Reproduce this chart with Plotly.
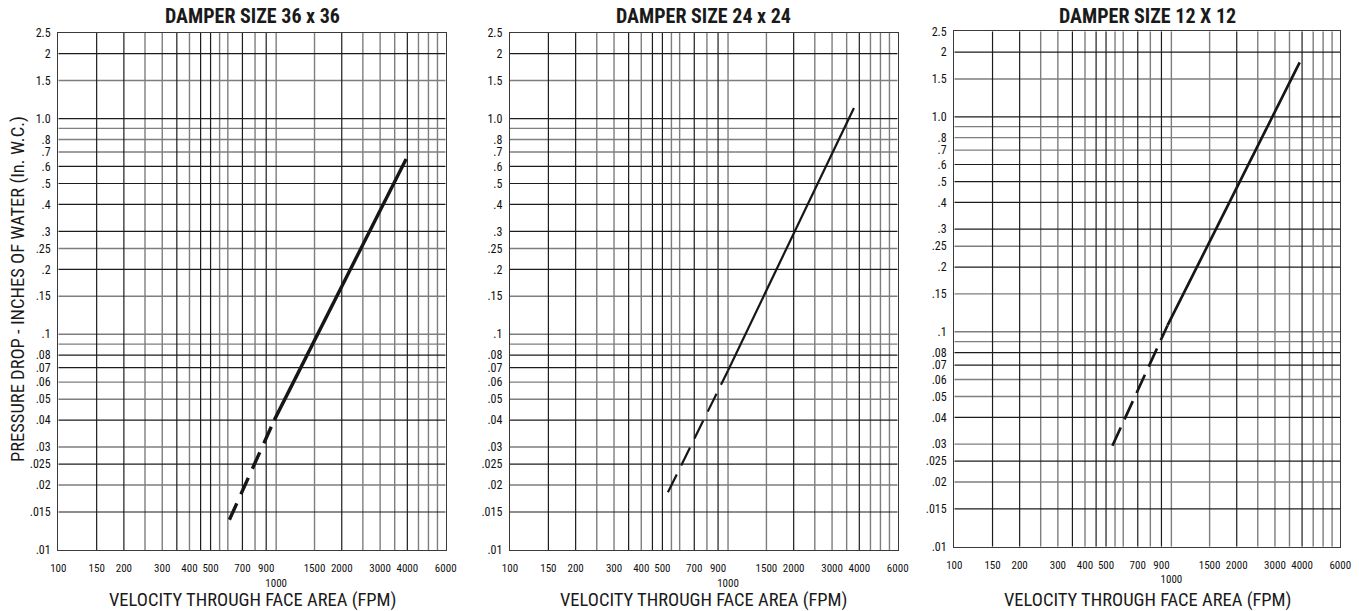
import math
import plotly.graph_objects as go

# ---- axis ticks and grid (velocity in FPM, pressure drop in in. W.C.) ----
x_tick_vals = [100, 150, 200, 300, 400, 500, 700, 900, 1000, 1500, 2000, 3000, 4000, 6000]
x_tick_text = ["100", "150", "200", "300", "400", "500", "700", "900", "<br>1000",
               "1500", "2000", "3000", "4000", "6000"]
x_grid_dark = [150, 200, 350, 450, 500, 700, 900, 2000, 4000]
x_grid_gray = [250, 300, 400, 550, 600, 800, 1000, 1500, 2500, 3000, 3500, 4500, 5000, 5500]

y_tick_vals = [2.5, 2, 1.5, 1.0, .8, .7, .6, .5, .4, .3, .25, .2, .15,
               .1, .08, .07, .06, .05, .04, .03, .025, .02, .015, .01]
y_tick_text = ["2.5", "2", "1.5", "1.0", ".8", ".7", ".6", ".5", ".4", ".3", ".25", ".2", ".15",
               ".1", ".08", ".07", ".06", ".05", ".04", ".03", ".025", ".02", ".015", ".01"]
y_grid_dark = [2, 1.0, .6, .5, .4, .3, .2, .08, .07, .04, .025, .015]
y_grid_gray = [1.5, .9, .8, .7, .25, .15, .1, .09, .06, .05, .03, .02]

# ---- damper curves: solid = rated range, dashed = extrapolated low range ----
titles = ["DAMPER SIZE 36 x 36", "DAMPER SIZE 24 x 24", "DAMPER SIZE 12 X 12"]

vel_36_solid = [980, 3950]
dp_36_solid = [0.040, 0.65]
vel_36_dash = [610, 980]
dp_36_dash = [0.0138, 0.040]

vel_24_solid = [1000, 3780]
dp_24_solid = [0.068, 1.12]
vel_24_dash = [530, 1000]
dp_24_dash = [0.0185, 0.068]

vel_12_solid = [960, 3900]
dp_12_solid = [0.107, 1.79]
vel_12_dash = [535, 960]
dp_12_dash = [0.0295, 0.107]

curves = [
    (vel_36_solid, dp_36_solid, vel_36_dash, dp_36_dash, 3.4, "18px,10px"),
    (vel_24_solid, dp_24_solid, vel_24_dash, dp_24_dash, 2.2, "20px,10px"),
    (vel_12_solid, dp_12_solid, vel_12_dash, dp_12_dash, 2.7, "20px,9px"),
]

W, H = 1359, 611
FONT = "Liberation Sans Narrow, Roboto Condensed, DejaVu Sans Condensed, Arial Narrow, sans-serif"
DARK = "#1c1c1c"
GRAY = "#7e7e7e"
INK = "#161616"

# plot-area pixel boxes: (left, right, top, bottom)
boxes = [(58.3, 445.7, 32.7, 550.0), (510.0, 897.7, 32.7, 550.0), (954.3, 1340.3, 31.3, 546.7)]

x_min, x_max = min(x_tick_vals), max(x_tick_vals)
y_min, y_max = min(y_tick_vals), max(y_tick_vals)

fig = go.Figure()


def grid_trace(vals, vertical, color, width, xa, ya):
    xs, ys = [], []
    for v in vals:
        if vertical:
            xs += [v, v, None]
            ys += [y_min, y_max, None]
        else:
            xs += [x_min, x_max, None]
            ys += [v, v, None]
    return go.Scatter(x=xs, y=ys, mode="lines", xaxis=xa, yaxis=ya,
                      line=dict(color=color, width=width), hoverinfo="skip", showlegend=False)


annotations = []
for i, (box, title, curve) in enumerate(zip(boxes, titles, curves)):
    n = "" if i == 0 else str(i + 1)
    xa, ya = "x" + n, "y" + n
    l, r, t, b = box
    ax_common = dict(type="log", showgrid=False, zeroline=False, showline=True, mirror=True,
                     linecolor="#3a3a3a", linewidth=1.4, ticks="", automargin=False,
                     tickfont=dict(family=FONT, size=11, color="#111"))
    fig.update_layout(**{
        "xaxis" + n: dict(ax_common, domain=[l / W, r / W],
                          range=[math.log10(x_min), math.log10(x_max)],
                          tickmode="array", tickvals=x_tick_vals, ticktext=x_tick_text,
                          tickangle=0, ticklabelstandoff=8, anchor=ya),
        "yaxis" + n: dict(ax_common, domain=[1 - b / H, 1 - t / H],
                          range=[math.log10(y_min), math.log10(y_max)],
                          tickmode="array", tickvals=y_tick_vals, ticktext=y_tick_text,
                          tickfont=dict(family=FONT, size=12, color="#111"),
                          ticklabelstandoff=4, anchor=xa),
    })
    fig.add_trace(grid_trace(x_grid_gray, True, GRAY, 1.4, xa, ya))
    fig.add_trace(grid_trace(y_grid_gray, False, GRAY, 1.4, xa, ya))
    fig.add_trace(grid_trace(x_grid_dark, True, DARK, 1.2, xa, ya))
    fig.add_trace(grid_trace(y_grid_dark, False, DARK, 1.2, xa, ya))

    vs, ps, vd, pd_, lw, dash = curve
    fig.add_trace(go.Scatter(x=vs, y=ps, mode="lines", xaxis=xa, yaxis=ya,
                             line=dict(color=INK, width=lw), showlegend=False))
    fig.add_trace(go.Scatter(x=vd, y=pd_, mode="lines", xaxis=xa, yaxis=ya,
                             line=dict(color=INK, width=lw, dash=dash), showlegend=False))

    cx = (l + r) / 2 / W
    annotations.append(dict(text="<b>" + title + "</b>", x=cx, y=1 - 15.5 / H, xref="paper", yref="paper",
                            showarrow=False, xanchor="center", yanchor="middle",
                            font=dict(family=FONT, size=20, color="#1a1a1a")))
    annotations.append(dict(text="VELOCITY THROUGH FACE AREA (FPM)", x=cx, y=1 - 600 / H,
                            xref="paper", yref="paper", showarrow=False,
                            xanchor="center", yanchor="middle",
                            font=dict(family=FONT, size=18.5, color="#1a1a1a")))

annotations.append(dict(text="PRESSURE DROP - INCHES OF WATER (In. W.C.)", x=18 / W, y=1 - 289 / H,
                        xref="paper", yref="paper", showarrow=False, textangle=-90,
                        xanchor="center", yanchor="middle",
                        font=dict(family=FONT, size=18.5, color="#1a1a1a")))

fig.update_layout(width=W, height=H, margin=dict(l=0, r=0, t=0, b=0),
                  paper_bgcolor="white", plot_bgcolor="white",
                  annotations=annotations, showlegend=False)

fig.write_html("out.html")
